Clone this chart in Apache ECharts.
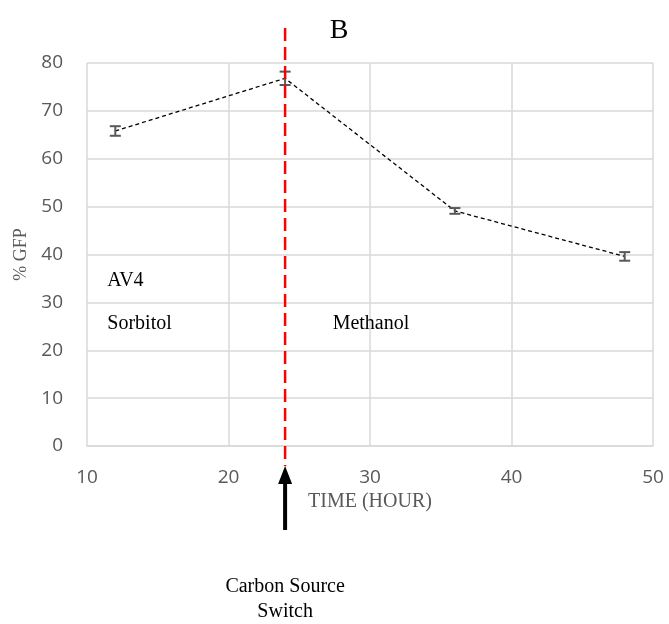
<!DOCTYPE html>
<html><head><meta charset="utf-8">
<script src="https://cdn.jsdelivr.net/npm/echarts@6/dist/echarts.min.js"></script>
<style>html,body{margin:0;padding:0;background:#fff}#c{width:669px;height:624px}</style>
</head><body><div id="c"></div>
<script>
var hours = [12, 24, 36, 48];
var gfp = [65.8, 76.8, 49.1, 39.6];
var gfpErr = [1.0, 1.4, 0.6, 0.9];
var switchHour = 24;
var xTicks = [10, 20, 30, 40, 50];
var yTicks = [0, 10, 20, 30, 40, 50, 60, 70, 80];

var chart = echarts.init(document.getElementById('c'), null, {renderer: 'canvas'});
var lineData = hours.map(function (h, i) { return [h, gfp[i]]; });
var errData = hours.map(function (h, i) { return [h, gfp[i] - gfpErr[i], gfp[i] + gfpErr[i]]; });
var serif = '"Liberation Serif","Times New Roman",serif';
var sans = '"Open Sans","Liberation Sans",sans-serif';

chart.setOption({
  animation: false,
  title: {text: 'B', left: 334, top: 12, textAlign: 'center',
    textStyle: {fontFamily: serif, fontSize: 28, fontWeight: 'normal', color: '#000'}},
  grid: {left: 87, right: 16, top: 63, bottom: 178, containLabel: false, outerBoundsMode: 'none'},
  xAxis: {type: 'value', min: xTicks[0], max: xTicks[xTicks.length - 1], interval: 10,
    name: 'TIME (HOUR)', nameLocation: 'middle', nameGap: 40,
    nameTextStyle: {fontFamily: serif, fontSize: 20, color: '#595959'},
    axisLine: {show: true, lineStyle: {color: '#d9d9d9', width: 1.5}}, axisTick: {show: false},
    axisLabel: {margin: 22, fontFamily: sans, fontSize: 19, color: '#595959'},
    splitLine: {show: true, lineStyle: {color: '#d9d9d9', width: 1.5}}},
  yAxis: {type: 'value', min: yTicks[0], max: yTicks[yTicks.length - 1], interval: 10,
    name: '% GFP', nameLocation: 'middle', nameGap: 56, nameRotate: 90,
    nameTextStyle: {fontFamily: serif, fontSize: 18, color: '#595959'},
    axisLine: {show: false}, axisTick: {show: false},
    axisLabel: {margin: 24, fontFamily: sans, fontSize: 19, color: '#595959'},
    splitLine: {show: true, lineStyle: {color: '#d9d9d9', width: 1.5}}},
  series: [
    {type: 'line', data: lineData, symbol: 'none', z: 3,
     lineStyle: {color: '#000', width: 1.3, type: [4, 3]}},
    {type: 'custom', data: errData, z: 4,
     renderItem: function (params, api) {
       var x = api.value(0);
       var lo = api.coord([x, api.value(1)]);
       var hi = api.coord([x, api.value(2)]);
       var w = 5.5;
       var st = {stroke: '#595959', lineWidth: 2};
       return {type: 'group', children: [
         {type: 'line', shape: {x1: lo[0], y1: lo[1], x2: hi[0], y2: hi[1]}, style: st},
         {type: 'line', shape: {x1: lo[0] - w, y1: lo[1], x2: lo[0] + w, y2: lo[1]}, style: st},
         {type: 'line', shape: {x1: hi[0] - w, y1: hi[1], x2: hi[0] + w, y2: hi[1]}, style: st}
       ]};
     }}
  ]
});

var sx = chart.convertToPixel({xAxisIndex: 0}, switchHour);
var y0 = chart.convertToPixel({yAxisIndex: 0}, 0);
var p12 = chart.convertToPixel({gridIndex: 0}, [12, 34.5]);
var pSorb = chart.convertToPixel({gridIndex: 0}, [12, 25.5]);
var pMeth = chart.convertToPixel({gridIndex: 0}, [27.5, 25.5]);
var txt = function (x, y, s, align) {
  return {type: 'text', x: x, y: y, z: 10, style: {text: s, fill: '#000', font: '20px ' + serif,
    textAlign: align || 'left', textVerticalAlign: 'middle'}};
};
chart.setOption({graphic: [
  {type: 'line', z: 5, shape: {x1: sx, y1: 28, x2: sx, y2: y0 + 20},
   style: {stroke: '#ff0000', lineWidth: 2.5, lineDash: [13, 6]}},
  {type: 'line', z: 6, shape: {x1: sx, y1: y0 + 34, x2: sx, y2: 530},
   style: {stroke: '#000', lineWidth: 4}},
  {type: 'polygon', z: 6, shape: {points: [[sx, y0 + 20], [sx - 7, y0 + 38], [sx + 7, y0 + 38]]},
   style: {fill: '#000'}},
  txt(p12[0] - 8, p12[1], 'AV4'),
  txt(pSorb[0] - 8, pSorb[1], 'Sorbitol'),
  txt(pMeth[0] - 2, pMeth[1], 'Methanol'),
  txt(sx, 587, 'Carbon Source', 'center'),
  txt(sx, 612, 'Switch', 'center')
]});
</script></body></html>
